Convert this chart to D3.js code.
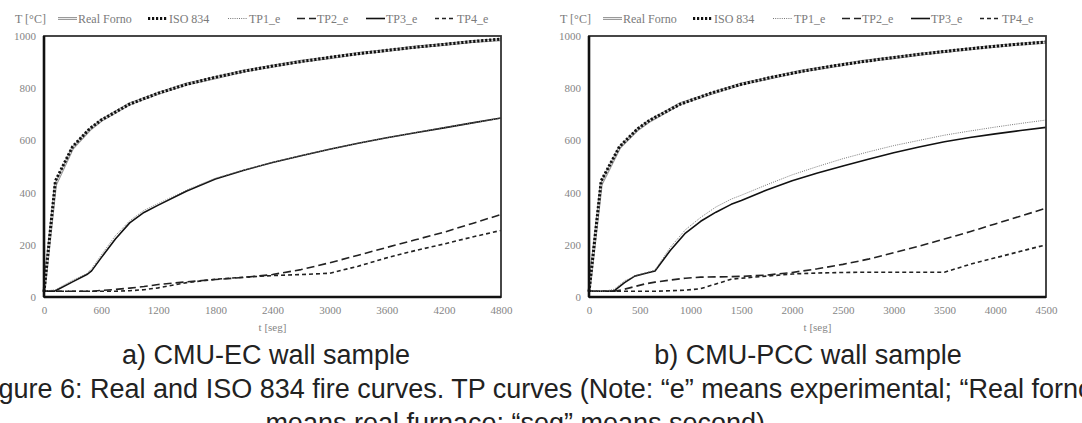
<!DOCTYPE html>
<html><head><meta charset="utf-8">
<script src="https://cdn.jsdelivr.net/npm/d3@7"></script>
<style>html,body{margin:0;padding:0;background:#fff;}svg{display:block;}</style>
</head><body>
<svg id="chart" width="1082" height="423"></svg>
<script>
// ---------- DATA ----------
const yTicks = [0, 200, 400, 600, 800, 1000];
const xTicksA = [0, 600, 1200, 1800, 2400, 3000, 3600, 4200, 4800];
const xTicksB = [0, 500, 1000, 1500, 2000, 2500, 3000, 3500, 4000, 4500];
const seriesNames = ["Real Forno", "ISO 834", "TP1_e", "TP2_e", "TP3_e", "TP4_e"];

// Panel a) CMU-EC
const tFurnA = [0, 120, 300, 480, 600, 900, 1200, 1500, 1800, 2100, 2400, 2700, 3000, 3300, 3600, 3900, 4200, 4500, 4800];
const isoA   = [20, 445, 576, 645, 678, 739, 781, 815, 842, 865, 885, 902, 918, 932, 945, 957, 968, 979, 988];
const realA  = [20, 430, 570, 641, 676, 740, 780, 816, 840, 866, 884, 903, 917, 933, 944, 958, 967, 979, 986];
const tTPA   = [0, 120, 300, 450, 500, 600, 750, 900, 1050, 1200, 1500, 1800, 2100, 2400, 2700, 3000, 3300, 3600, 3900, 4200, 4500, 4800];
const tp1A   = [22, 28, 64, 90, 108, 160, 235, 292, 332, 358, 410, 455, 487, 516, 542, 566, 589, 610, 630, 649, 667, 685];
const tp2A   = [22, 22, 22, 22, 22, 25, 29, 34, 40, 48, 58, 67, 75, 86, 105, 131, 160, 190, 219, 248, 282, 316];
const tp3A   = [22, 24, 58, 86, 100, 150, 222, 284, 324, 352, 406, 452, 486, 515, 541, 566, 589, 610, 629, 648, 667, 686];
const tp4A   = [22, 22, 22, 22, 22, 22, 22, 24, 28, 35, 55, 68, 76, 82, 86, 91, 118, 150, 178, 203, 230, 255];

// Panel b) CMU-PCC
const tFurnB = [0, 120, 300, 480, 600, 900, 1200, 1500, 1800, 2100, 2400, 2700, 3000, 3300, 3600, 3900, 4200, 4500];
const isoB   = [20, 445, 576, 645, 678, 739, 781, 815, 842, 865, 885, 902, 918, 932, 945, 957, 968, 977];
const realB  = [20, 432, 572, 642, 675, 741, 779, 816, 841, 866, 884, 903, 917, 932, 944, 957, 967, 976];
const tTPB   = [0, 150, 250, 350, 450, 550, 650, 800, 950, 1100, 1250, 1400, 1500, 1750, 2000, 2250, 2500, 2750, 3000, 3250, 3500, 3750, 4000, 4250, 4500];
const tp1B   = [22, 22, 30, 62, 80, 92, 103, 190, 258, 305, 345, 375, 390, 430, 468, 500, 530, 556, 580, 600, 620, 636, 651, 665, 678];
const tp2B   = [22, 22, 22, 30, 40, 50, 57, 65, 72, 76, 77, 78, 79, 84, 94, 108, 125, 145, 170, 195, 222, 250, 280, 310, 340];
const tp3B   = [22, 22, 24, 55, 80, 90, 100, 178, 245, 290, 325, 355, 370, 410, 445, 475, 502, 528, 553, 575, 595, 611, 625, 638, 650];
const tp4B   = [22, 22, 22, 22, 22, 22, 22, 24, 26, 32, 50, 68, 72, 80, 88, 92, 94, 95, 95, 95, 95, 125, 150, 175, 200];

// ---------- DRAW ----------
const svg = d3.select("#chart");
svg.append("rect").attr("width", 1082).attr("height", 423).attr("fill", "#fff");

const styles = {
  "Real Forno": {stroke: "#9a9a9a", width: 3, dash: null, dbl: true},
  "ISO 834":    {stroke: "#111", width: 3, dash: "2.2,1.8"},
  "TP1_e":      {stroke: "#777", width: 1, dash: "1,1.2"},
  "TP2_e":      {stroke: "#222", width: 1.6, dash: "8,4"},
  "TP3_e":      {stroke: "#111", width: 1.6, dash: null},
  "TP4_e":      {stroke: "#222", width: 1.6, dash: "4,3"}
};

function panel(cfg) {
  const g = svg.append("g");
  const x = d3.scaleLinear().domain([0, cfg.xMax]).range([cfg.left, cfg.right]);
  const y = d3.scaleLinear().domain([0, 1000]).range([297, 36]);
  const serif = "'Liberation Serif','Times New Roman',serif";

  // y tick labels
  const ya = d3.axisLeft(y).tickValues(yTicks).tickSize(0).tickPadding(8).tickFormat(d3.format("d"));
  const yg = g.append("g").attr("transform", `translate(${cfg.left},0)`).call(ya);
  yg.select(".domain").remove();
  yg.selectAll("text").attr("font-family", serif).attr("font-size", 11).attr("fill", "#858585");

  // x tick labels
  const xa = d3.axisBottom(x).tickValues(cfg.xTicks).tickSize(0).tickPadding(9).tickFormat(d3.format("d"));
  const xg = g.append("g").attr("transform", `translate(0,297)`).call(xa);
  xg.select(".domain").remove();
  xg.selectAll("text").attr("font-family", serif).attr("font-size", 11).attr("fill", "#858585");

  g.append("text").attr("x", (cfg.left + cfg.right) / 2).attr("y", 331)
    .attr("text-anchor", "middle").attr("font-family", serif).attr("font-size", 11)
    .attr("fill", "#858585").text("t [seg]");

  // lines
  const line = (xs, ys) => d3.line().x((d, i) => x(xs[i])).y(d => y(d))(ys);
  const data = [
    ["Real Forno", cfg.tF, cfg.real],
    ["ISO 834", cfg.tF, cfg.iso],
    ["TP4_e", cfg.tT, cfg.tp4],
    ["TP2_e", cfg.tT, cfg.tp2],
    ["TP3_e", cfg.tT, cfg.tp3],
    ["TP1_e", cfg.tT, cfg.tp1]
  ];
  data.forEach(([name, xs, ys]) => {
    const s = styles[name];
    g.append("path").attr("d", line(xs, ys)).attr("fill", "none")
      .attr("stroke", s.stroke).attr("stroke-width", s.width)
      .attr("stroke-dasharray", s.dash).attr("stroke-linejoin", "round");
    if (s.dbl) {
      g.append("path").attr("d", line(xs, ys)).attr("fill", "none")
        .attr("stroke", "#fff").attr("stroke-width", 0.8);
    }
  });

  // frame
  g.append("rect").attr("x", cfg.left).attr("y", 36).attr("width", cfg.right - cfg.left).attr("height", 261)
    .attr("fill", "none").attr("stroke", "#333").attr("stroke-width", 1.8);
  g.append("line").attr("x1", cfg.left).attr("x2", cfg.left).attr("y1", 36).attr("y2", 297)
    .attr("stroke", "#111").attr("stroke-width", 2.6);
  g.append("line").attr("x1", cfg.left).attr("x2", cfg.right).attr("y1", 297).attr("y2", 297)
    .attr("stroke", "#111").attr("stroke-width", 2.6);

  // legend
  const L = cfg.left;
  g.append("text").attr("x", L - 29).attr("y", 22.5).attr("font-family", serif).attr("font-size", 12)
    .attr("fill", "#7a7a7a").text("T [°C]");
  const legPos = [[14, 34], [104, 125], [184, 205], [253, 273], [322, 342], [391, 413]];
  seriesNames.forEach((name, i) => {
    const s = styles[name];
    const [lx, tx] = legPos[i];
    g.append("line").attr("x1", L + lx).attr("x2", L + lx + 19).attr("y1", 18.5).attr("y2", 18.5)
      .attr("stroke", s.stroke).attr("stroke-width", s.width).attr("stroke-dasharray", s.dash);
    if (s.dbl) g.append("line").attr("x1", L + lx).attr("x2", L + lx + 19).attr("y1", 18.5).attr("y2", 18.5)
      .attr("stroke", "#fff").attr("stroke-width", 0.8);
    g.append("text").attr("x", L + tx).attr("y", 22.5).attr("font-family", serif).attr("font-size", 12)
      .attr("fill", "#7a7a7a").text(name);
  });

  // sub caption
  svg.append("text").attr("x", cfg.capX).attr("y", 364).attr("text-anchor", "middle")
    .attr("font-family", "'Liberation Sans',Arial,sans-serif").attr("font-size", 27)
    .attr("fill", "#222").text(cfg.caption);
}

panel({left: 44, right: 501, xMax: 4800, xTicks: xTicksA, tF: tFurnA, iso: isoA, real: realA,
  tT: tTPA, tp1: tp1A, tp2: tp2A, tp3: tp3A, tp4: tp4A, capX: 266, caption: "a) CMU-EC wall sample"});
panel({left: 589, right: 1046, xMax: 4500, xTicks: xTicksB, tF: tFurnB, iso: isoB, real: realB,
  tT: tTPB, tp1: tp1B, tp2: tp2B, tp3: tp3B, tp4: tp4B, capX: 808, caption: "b) CMU-PCC wall sample"});

const sans = "'Liberation Sans',Arial,sans-serif";
svg.append("text").attr("x", -24).attr("y", 398).attr("font-family", sans).attr("font-size", 27)
  .attr("fill", "#222").text("Figure 6: Real and ISO 834 fire curves. TP curves (Note: \u201ce\u201d means experimental; \u201cReal forno\u201d");
svg.append("text").attr("x", 519).attr("y", 432).attr("text-anchor", "middle").attr("font-family", sans).attr("font-size", 27)
  .attr("fill", "#222").text("means real furnace; \u201cseg\u201d means second).");
</script>
</body></html>
